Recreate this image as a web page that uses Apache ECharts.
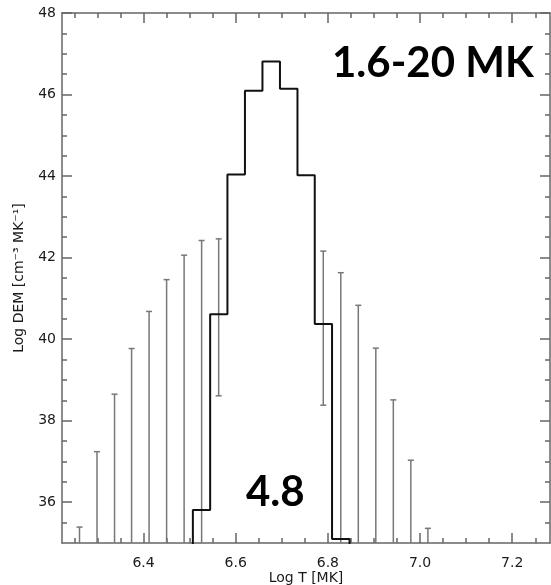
<!DOCTYPE html>
<html>
<head>
<meta charset="utf-8">
<script src="https://cdn.jsdelivr.net/npm/echarts@6/dist/echarts.min.js"></script>
<style>
  html, body { margin: 0; padding: 0; background: #fff; }
  #chart { width: 551px; height: 585px; }
</style>
</head>
<body>
<div id="chart"></div>
<script>
// bin centres in log T (1.6 - 20 MK, 29 bins)
const logT = [
  6.223, 6.261, 6.299, 6.337, 6.374, 6.412, 6.450, 6.488, 6.526, 6.563,
  6.601, 6.639, 6.677, 6.715, 6.753, 6.790, 6.828, 6.866, 6.904, 6.942,
  6.980, 7.017, 7.055, 7.093, 7.131, 7.169, 7.207, 7.244, 7.282
];
// Log DEM per bin, null = not plotted, 34 = below the plot floor
const demLog = [
  null, null, null, null, null, null, null, 34, 35.81, 40.61,
  44.04, 46.09, 46.81, 46.14, 44.02, 40.37, 35.10, 34, null, null,
  null, null, null, null, null, null, null, null, null
];
// error bars (upper / lower end), lower null = runs below the axis
const errHigh = [
  null, 35.39, 37.24, 38.65, 39.77, 40.68, 41.46, 42.06, 42.42, 42.46,
  null, null, null, null, null, 42.16, 41.63, 40.83, 39.78, 38.51,
  37.03, 35.36, null, null, null, null, null, null, null
];
const errLow = [
  null, null, null, null, null, null, null, null, null, 38.61,
  null, null, null, null, null, 38.38, null, null, null, null,
  null, null, null, null, null, null, null, null, null
];

const xMajor = [6.4, 6.6, 6.8, 7.0, 7.2];
const xMinor = [6.25, 6.3, 6.35, 6.45, 6.5, 6.55, 6.65, 6.7, 6.75, 6.85, 6.9, 6.95, 7.05, 7.1, 7.15, 7.25];
const yMajor = [36, 38, 40, 42, 44, 46, 48];
const yMinor = [35.5, 36.5, 37, 37.5, 38.5, 39, 39.5, 40.5, 41, 41.5, 42.5, 43, 43.5, 44.5, 45, 45.5, 46.5, 47, 47.5];

const xMin = 6.223, xMax = 7.282;
const yMin = 35, yMax = 48;

const axisColor = '#666';
const labelFont = { fontFamily: 'DejaVu Sans', fontSize: 14, color: '#1a1a1a' };

// one helper for the boxed IDL style axes (ticks on all four sides)
function makeAxis (kind, pos, ticks, len, withLabels) {
  let ax = {
    type: 'value',
    position: pos,
    min: kind === 'x' ? xMin : yMin,
    max: kind === 'x' ? xMax : yMax,
    splitLine: { show: false },
    axisLine: { show: withLabels !== null, onZero: false, lineStyle: { color: axisColor, width: 1.5 } },
    axisTick: { show: true, inside: true, length: len, customValues: ticks, lineStyle: { color: axisColor, width: 1.5 } },
    axisLabel: { show: false }
  };
  if (withLabels) {
    ax.axisLabel = Object.assign({
      show: true,
      customValues: ticks,
      margin: kind === 'x' ? 13 : 6,
      formatter: v => kind === 'x' ? v.toFixed(1) : String(Math.round(v))
    }, labelFont);
  }
  return ax;
}

let xAxes = [
  makeAxis('x', 'bottom', xMajor, 10, true),
  makeAxis('x', 'bottom', xMinor, 5, null),
  makeAxis('x', 'top', xMajor, 10, false),
  makeAxis('x', 'top', xMinor, 5, null)
];
xAxes[0].name = 'Log T [MK]';
xAxes[0].nameLocation = 'middle';
xAxes[0].nameGap = 28;
xAxes[0].nameMoveOverlap = false;
xAxes[0].nameTextStyle = labelFont;

let yAxes = [
  makeAxis('y', 'left', yMajor, 10, true),
  makeAxis('y', 'left', yMinor, 5, null),
  makeAxis('y', 'right', yMajor, 10, false),
  makeAxis('y', 'right', yMinor, 5, null)
];
yAxes[0].name = 'Log DEM [cm⁻³ MK⁻¹]';
yAxes[0].nameLocation = 'middle';
yAxes[0].nameGap = 36;
yAxes[0].nameMoveOverlap = false;
yAxes[0].nameTextStyle = labelFont;

const demData = logT.map((t, i) => [t, demLog[i]]);
const errData = logT.map((t, i) => [t, errLow[i], errHigh[i]]).filter(d => d[2] !== null);

const chart = echarts.init(document.getElementById('chart'));
chart.setOption({
  animation: false,
  backgroundColor: '#fff',
  grid: { left: 62, right: 1, top: 13, bottom: 42, containLabel: false, outerBoundsMode: 'none' },
  xAxis: xAxes,
  yAxis: yAxes,
  series: [
    {
      // error bars
      type: 'custom',
      clip: true,
      z: 2,
      data: errData,
      renderItem: function (params, api) {
        let d = errData[params.dataIndex];
        let top = api.coord([d[0], d[2]]);
        let bot = api.coord([d[0], d[1] === null ? yMin - 1 : d[1]]);
        let style = { stroke: '#777', lineWidth: 1.5 };
        let kids = [
          { type: 'line', shape: { x1: top[0], y1: top[1], x2: bot[0], y2: bot[1] }, style: style },
          { type: 'line', shape: { x1: top[0] - 3, y1: top[1], x2: top[0] + 3, y2: top[1] }, style: style }
        ];
        if (d[1] !== null) {
          kids.push({ type: 'line', shape: { x1: bot[0] - 3, y1: bot[1], x2: bot[0] + 3, y2: bot[1] }, style: style });
        }
        return { type: 'group', children: kids };
      }
    },
    {
      // DEM histogram
      type: 'line',
      step: 'middle',
      clip: true,
      z: 3,
      symbol: 'none',
      data: demData,
      lineStyle: { color: '#111', width: 2 }
    }
  ],
  graphic: [
    { type: 'text', left: 332, top: 42, style: { text: '1.6-20 MK', font: 'bold 42px Lato', fill: '#000' } },
    { type: 'text', left: 246, top: 471, style: { text: '4.8', font: 'bold 42px Lato', fill: '#000' } }
  ]
});
</script>
</body>
</html>
